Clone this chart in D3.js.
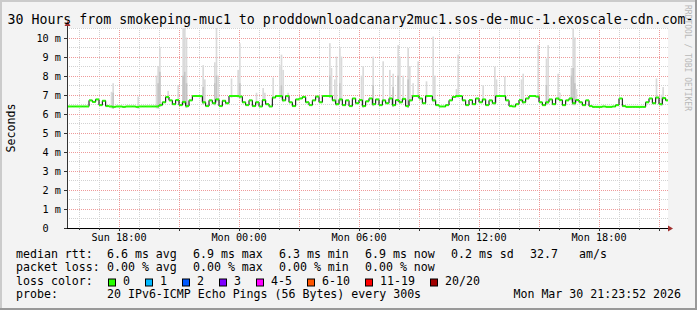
<!DOCTYPE html>
<html>
<head>
<meta charset="utf-8">
<script src="https://cdn.jsdelivr.net/npm/d3@7"></script>
<style>
body { margin: 0; background: #fff; }
svg { display: block; }
text { font-family: "DejaVu Sans Mono", monospace; fill: #000; }
</style>
</head>
<body>
<script>
// chart values

var titleText = "30 Hours from smokeping-muc1 to proddownloadcanary2muc1.sos-de-muc-1.exoscale-cdn.com-";
var timeStart = "2026-03-29T15:24:00Z",
    timeEnd = "2026-03-30T21:24:00Z";

// median rtt in ms, one value every 10 minutes from Sun 15:20
var medianStart = "2026-03-29T15:20:00Z";
var medianRtt = [
    6.38,6.38,6.38,6.38,6.38,6.38,6.38,6.70,6.62,6.75,6.45,6.68,
    6.40,6.38,6.36,6.38,6.38,6.36,6.38,6.38,6.38,6.36,6.38,6.38,
    6.38,6.38,6.38,6.38,6.45,6.60,6.88,6.70,6.50,6.72,6.45,6.62,
    6.40,6.70,6.93,6.93,6.92,6.60,6.40,6.70,6.55,6.75,6.40,6.68,
    6.55,6.93,6.93,6.93,6.90,6.60,6.45,6.70,6.40,6.60,6.38,6.72,
    6.50,6.38,6.85,6.93,6.93,6.70,6.93,6.60,6.40,6.75,6.80,6.88,
    6.60,6.45,6.70,6.90,6.60,6.93,6.93,6.93,6.70,6.50,6.75,6.45,
    6.70,6.40,6.80,6.55,6.72,6.40,6.65,6.80,6.50,6.75,6.45,6.70,
    6.55,6.80,6.45,6.72,6.60,6.78,6.40,6.70,6.93,6.93,6.80,6.55,
    6.93,6.93,6.70,6.45,6.38,6.38,6.45,6.70,6.88,6.93,6.93,6.70,
    6.45,6.72,6.50,6.80,6.60,6.75,6.45,6.70,6.55,6.93,6.93,6.93,
    6.70,6.40,6.38,6.50,6.72,6.60,6.80,6.93,6.93,6.90,6.60,6.45,
    6.60,6.75,6.50,6.80,6.72,6.45,6.70,6.80,6.55,6.72,6.60,6.45,
    6.70,6.40,6.36,6.36,6.36,6.38,6.36,6.36,6.38,6.45,6.80,6.40,
    6.36,6.36,6.36,6.36,6.36,6.36,6.60,6.80,6.55,6.85,6.50,6.82,
    6.70,6.80
];

// smoke spikes (5 minute samples): time, highest ping, darker inner band (0 = none)
var smokeTime = [
    "Sun 17:35","Sun 17:40","Sun 18:55","Sun 19:50","Sun 19:55","Sun 20:00","Sun 20:25",
    "Sun 20:55","Sun 21:10","Sun 21:15","Sun 21:20","Sun 22:10","Sun 22:15","Sun 22:45",
    "Sun 22:50","Sun 22:55","Sun 23:35","Sun 23:55","Mon 00:00","Mon 00:50","Mon 01:10",
    "Mon 01:15","Mon 01:40","Mon 02:00","Mon 02:05","Mon 02:10","Mon 02:25","Mon 04:30",
    "Mon 04:35","Mon 04:45","Mon 04:50","Mon 05:00","Mon 05:05","Mon 06:05","Mon 06:10",
    "Mon 06:40","Mon 07:10","Mon 07:30","Mon 07:40","Mon 07:55","Mon 08:00","Mon 08:10",
    "Mon 08:25","Mon 08:30","Mon 08:40","Mon 08:55","Mon 09:20","Mon 09:40","Mon 09:45",
    "Mon 10:50","Mon 10:55","Mon 12:10","Mon 12:45","Mon 12:50","Mon 13:15","Mon 14:05",
    "Mon 14:10","Mon 14:55","Mon 15:20","Mon 15:25","Mon 15:55","Mon 16:00","Mon 16:35",
    "Mon 16:40","Mon 16:45","Mon 16:50","Mon 20:50","Mon 21:05","Mon 21:10"
];
var smokeMax = [
    7.15,7.6,6.9,8.0,8.5,9.5,7.2,
    7.5,10.6,10.6,10.0,8.55,7.8,8.7,
    10.6,8.0,7.85,8.3,9.7,7.1,7.35,
    7.1,7.9,8.55,9.1,8.3,7.1,9.7,
    8.4,7.8,9.0,9.5,9.0,8.0,8.5,
    9.0,8.75,8.3,8.1,9.6,9.0,8.0,
    9.45,8.5,7.6,8.75,7.7,10.05,8.0,
    7.3,9.1,7.5,8.47,7.8,7.95,7.8,
    8.1,9.6,8.9,9.6,8.1,7.1,8.4,
    10.6,10.0,7.3,7.85,7.0,7.4
];
var smokeMid = [
    0,7.1,0,0,7.6,8.2,0,
    0,8.0,8.2,7.6,7.4,0,7.6,
    8.0,0,0,0,7.6,0,0,
    0,0,0,7.5,0,0,8.0,
    0,0,0,7.6,0,0,0,
    7.5,0,0,7.4,8.0,0,0,
    7.8,0,0,0,0,0,0,
    0,0,0,0,0,0,0,
    0,0,7.5,0,0,0,8.0,
    8.4,7.6,0,0,0,0
];

var yTicks = [0,1,2,3,4,5,6,7,8,9,10];
var yMax = 10.5;

var rttLabel = "median rtt:",
    rttStats = ["6.6 ms avg","6.9 ms max","6.3 ms min","6.9 ms now","0.2 ms sd"],
    amsValue = "32.7", amsUnit = "am/s";
var lossLabel = "packet loss:",
    lossStats = ["0.00 % avg","0.00 % max","0.00 % min","0.00 % now"];
var lossNames = ["0","1","2","3","4-5","6-10","11-19","20/20"],
    lossColors = ["#26ff00","#00b8ff","#0059ff","#7e00ff","#ff00ff","#ff5500","#ff0000","#a10000"];
var probeText = "20 IPv6-ICMP Echo Pings (56 Bytes) every 300s",
    stampText = "Mon Mar 30 21:23:52 2026";

// ---------------------------------------------------------------

drawGraph();

function drawGraph(){

    var width = 697, height = 310;
    var left = 67, right = 667, plotTop = 28, plotBottom = 228;

    var svg = d3.select("body").append("svg")
        .attr("width", width)
        .attr("height", height);

    // background and 3d border
    svg.append("rect").attr("width", width).attr("height", height).attr("fill", "#f3f3f3");
    svg.append("rect").attr("width", width).attr("height", 2).attr("fill", "#cbcbcb");
    svg.append("rect").attr("width", 2).attr("height", height).attr("fill", "#cbcbcb");
    svg.append("rect").attr("y", height - 2).attr("width", width).attr("height", 2).attr("fill", "#999");
    svg.append("rect").attr("x", width - 2).attr("width", 2).attr("height", height).attr("fill", "#999");

    // plot canvas
    svg.append("rect")
        .attr("x", left).attr("y", plotTop)
        .attr("width", right - left + 1).attr("height", plotBottom - plotTop)
        .attr("fill", "#fff");

    var x = d3.scaleUtc()
        .domain([new Date(timeStart), new Date(timeEnd)])
        .range([left, right]);

    var y = d3.scaleLinear()
        .domain([0, yMax])
        .range([plotBottom, plotTop]);

    svg.append("clipPath").attr("id", "plotclip")
        .append("rect")
        .attr("x", left).attr("y", plotTop)
        .attr("width", right - left + 1).attr("height", plotBottom - plotTop);

    // grid
    var grid = svg.append("g");
    var hours = d3.utcHour.every(1).range(x.domain()[0], x.domain()[1]);
    hours.forEach(function(h){
        var major = h.getUTCHours() % 3 == 0;
        grid.append("line")
            .attr("x1", Math.round(x(h)) + 0.5).attr("x2", Math.round(x(h)) + 0.5)
            .attr("y1", plotTop).attr("y2", plotBottom)
            .attr("stroke", major ? "#ee9a9a" : "#d2d2d2")
            .attr("stroke-dasharray", "1,1");
    });
    for (var v = 0.5; v <= yMax; v += 0.5){
        var major = v % 1 == 0;
        grid.append("line")
            .attr("x1", left).attr("x2", right + 1)
            .attr("y1", Math.round(y(v)) + 0.5).attr("y2", Math.round(y(v)) + 0.5)
            .attr("stroke", major ? "#ee9a9a" : "#d2d2d2")
            .attr("stroke-dasharray", "1,1");
    }

    // median samples
    var t0 = new Date(medianStart).getTime();
    var samples = medianRtt.map(function(d, i){
        return {t: new Date(t0 + i * 600000), v: d};
    });
    var bisect = d3.bisector(function(d){ return d.t; }).right;

    // smoke
    var parseSmoke = function(s){
        var day = s.slice(0, 3) == "Sun" ? "29" : "30";
        return new Date("2026-03-" + day + "T" + s.slice(4) + ":00Z");
    };
    var plot = svg.append("g").attr("clip-path", "url(#plotclip)");

    smokeTime.forEach(function(s, i){
        var t = parseSmoke(s);
        var t2 = new Date(t.getTime() + 300000);
        var base = samples[Math.max(0, bisect(samples, t) - 1)].v - 0.1;
        plot.append("rect")
            .attr("x", x(t)).attr("width", x(t2) - x(t))
            .attr("y", y(smokeMax[i])).attr("height", y(base) - y(smokeMax[i]))
            .attr("fill", "#dadada");
        if (smokeMid[i] > 0){
            plot.append("rect")
                .attr("x", x(t)).attr("width", x(t2) - x(t))
                .attr("y", y(smokeMid[i])).attr("height", y(base) - y(smokeMid[i]))
                .attr("fill", "#c4c4c4");
        }
    });

    // median line: black steps, loss colour on each sample
    var last = samples[samples.length - 1];
    var stepData = samples.concat([{t: new Date(last.t.getTime() + 600000), v: last.v}]);
    plot.append("path")
        .datum(stepData)
        .attr("fill", "none")
        .attr("stroke", "#000")
        .attr("stroke-width", 1)
        .attr("d", d3.line()
            .x(function(d){ return x(d.t); })
            .y(function(d){ return y(d.v); })
            .curve(d3.curveStepAfter));

    plot.selectAll(".med")
        .data(samples)
        .enter()
        .append("line")
        .attr("class", "med")
        .attr("x1", function(d){ return x(d.t); })
        .attr("x2", function(d){ return x(new Date(d.t.getTime() + 600000)); })
        .attr("y1", function(d){ return y(d.v); })
        .attr("y2", function(d){ return y(d.v); })
        .attr("stroke", lossColors[0])
        .attr("stroke-width", 2);

    // axes
    var axisColor = "#333";
    svg.append("line")
        .attr("x1", left + 0.5).attr("x2", left + 0.5)
        .attr("y1", plotBottom).attr("y2", plotTop - 4)
        .attr("stroke", axisColor);
    svg.append("line")
        .attr("x1", left).attr("x2", right + 3)
        .attr("y1", plotBottom + 0.5).attr("y2", plotBottom + 0.5)
        .attr("stroke", "#000");
    svg.append("path")
        .attr("d", "M" + (left - 2.5) + "," + (plotTop - 2) + "L" + (left + 3.5) + "," + (plotTop - 2) + "L" + (left + 0.5) + "," + (plotTop - 7) + "Z")
        .attr("fill", "#a0302f");
    svg.append("path")
        .attr("d", "M" + (right + 1) + "," + (plotBottom - 2.5) + "L" + (right + 1) + "," + (plotBottom + 3.5) + "L" + (right + 6) + "," + (plotBottom + 0.5) + "Z")
        .attr("fill", "#a0302f");

    // y ticks + labels
    yTicks.forEach(function(t){
        var yy = Math.round(y(t)) + 0.5;
        svg.append("line")
            .attr("x1", left - 3).attr("x2", left)
            .attr("y1", yy).attr("y2", yy)
            .attr("stroke", axisColor);
        svg.append("text")
            .attr("x", left - 6).attr("y", yy + 3.5)
            .attr("text-anchor", "end")
            .style("font-size", "10.2px")
            .text(t == 0 ? "0\u00a0\u00a0" : t + "\u00a0m");
    });

    // x ticks + labels
    hours.forEach(function(h){
        var major = h.getUTCHours() % 3 == 0;
        var xx = Math.round(x(h)) + 0.5;
        svg.append("line")
            .attr("x1", xx).attr("x2", xx)
            .attr("y1", plotBottom).attr("y2", plotBottom + (major ? 3 : 2))
            .attr("stroke", axisColor);
    });
    var fmt = d3.utcFormat("%a %H:%M");
    x.ticks(d3.utcHour.every(6)).forEach(function(t){
        svg.append("text")
            .attr("x", x(t)).attr("y", 241)
            .attr("text-anchor", "middle")
            .style("font-size", "10.2px")
            .text(fmt(t).replace(" ", "\u00a0"));
    });

    // title, unit, watermark
    svg.append("text")
        .attr("x", 7.5).attr("y", 23.5)
        .style("font-size", "13.25px")
        .text(titleText);

    svg.append("text")
        .attr("transform", "translate(15," + ((plotTop + plotBottom) / 2) + ") rotate(-90)")
        .attr("text-anchor", "middle")
        .style("font-size", "11.6px")
        .text("Seconds");

    svg.append("text")
        .attr("transform", "translate(685,5) rotate(90)")
        .style("font-size", "8px")
        .style("fill", "#b8b8b8")
        .text("RRDTOOL\u00a0/\u00a0TOBI\u00a0OETIKER");

    // legend
    var lg = svg.append("g").style("font-size", "11.6px");
    var nb = function(s){ return s.replace(/ /g, "\u00a0"); };
    var col0 = 16, col1 = 107, colStep = 86;
    var rows = [257.5, 271, 284.5, 298];

    lg.append("text").attr("x", col0).attr("y", rows[0]).text(nb(rttLabel));
    rttStats.forEach(function(s, i){
        lg.append("text").attr("x", col1 + colStep * i).attr("y", rows[0]).text(nb(s));
    });
    lg.append("text").attr("x", 530).attr("y", rows[0]).text(amsValue);
    lg.append("text").attr("x", 579).attr("y", rows[0]).text(amsUnit);

    lg.append("text").attr("x", col0).attr("y", rows[1]).text(nb(lossLabel));
    lossStats.forEach(function(s, i){
        lg.append("text").attr("x", col1 + colStep * i).attr("y", rows[1]).text(nb(s));
    });

    lg.append("text").attr("x", col0).attr("y", rows[2]).text(nb("loss color:"));
    var bx = 108;
    lossNames.forEach(function(n, i){
        lg.append("rect")
            .attr("x", bx + 0.5).attr("y", rows[2] - 5.5)
            .attr("width", 7).attr("height", 7)
            .attr("fill", lossColors[i])
            .attr("stroke", "#000");
        lg.append("text").attr("x", bx + 15).attr("y", rows[2]).text(n);
        bx = bx + 15 + n.length * 7 + 15;
    });

    lg.append("text").attr("x", col0).attr("y", rows[3]).text("probe:");
    lg.append("text").attr("x", col1).attr("y", rows[3]).text(nb(probeText));
    lg.append("text").attr("x", 681).attr("y", rows[3]).attr("text-anchor", "end").text(nb(stampText));
}
</script>
</body>
</html>
